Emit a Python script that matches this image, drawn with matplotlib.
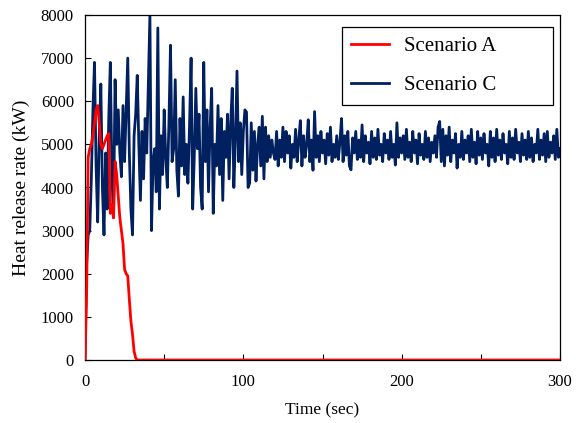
import numpy as np
import matplotlib
matplotlib.use("Agg")
import matplotlib.pyplot as plt
from matplotlib.ticker import MultipleLocator

# ---------------- data ----------------
time_a = [0, 1, 2, 3, 4, 5, 6, 7, 8, 9, 10, 11, 12, 13, 14, 15, 16, 17, 18,
          19, 20, 21, 22, 23, 24, 25, 26, 27, 28, 29, 30, 31, 32, 33, 300]
hrr_a = [0, 1500, 4700, 4900, 5000, 5200, 5500, 5800, 5900, 5500, 5000, 4900,
         5000, 5100, 5200, 5250, 3400, 3600, 3300, 4600, 4300, 3800, 3300,
         3000, 2700, 2100, 2000, 1950, 1400, 900, 600, 200, 50, 0, 0]

hrr_c = [
    # 0-20
    0, 2200, 2900, 3000, 4200, 5800, 6900, 4500, 3200, 5200, 6400,
    4000, 2900, 4800, 3500, 5600, 6900, 4300, 3300, 6500, 5000,
    # 21-40
    5800, 4800, 4250, 5900, 4600, 5800, 7000, 4800, 3500, 2900,
    5200, 5700, 6600, 5000, 3700, 5300, 4200, 5600, 4800, 6400,
    # 41-60
    8000, 3000, 4600, 4900, 3900, 7700, 3500, 5200, 4300, 5800,
    4700, 4000, 5500, 7300, 4600, 4900, 6500, 4400, 3800, 5600,
    # 61-80
    4500, 6100, 4300, 5000, 4100, 5400, 7000, 3500, 4700, 6300,
    4900, 5700, 4000, 3500, 6900, 4600, 5800, 3900, 5400, 6300,
    # 81-100
    3400, 5000, 4500, 5900, 4300, 5600, 3700, 5300, 4700, 5700,
    4200, 5500, 6300, 4000, 5100, 6700, 4600, 5500, 4300, 5300,
    # 101-120
    5800, 5750, 4000, 4100, 5500, 4400, 5300, 4150, 5000, 5400,
    4500, 5650, 4200, 5400, 4600, 5200, 4700, 5100, 4800, 4650,
    # 121-140
    5300, 4500, 5100, 4700, 5400, 4600, 5300, 4800, 5200, 4450,
    5000, 4700, 5350, 4600, 5100, 5550, 4500, 5200, 4700, 5000,
    # 141-160
    5570, 4600, 5100, 4400, 5760, 4700, 5200, 4600, 5300, 4800,
    5100, 4550, 5250, 4750, 5400, 4600, 5000, 4700, 5200, 4650,
    # 161-180
    5050, 5600, 4600, 5200, 4750, 5300, 4500, 4410, 5150, 4800,
    5300, 4650, 5100, 4700, 5450, 4600, 5200, 4800, 5050, 4550,
    # 181-200
    5300, 4700, 5150, 4650, 5350, 4750, 5000, 4600, 5250, 4800,
    5100, 4650, 5300, 4700, 5000, 4520, 5500, 4700, 5150, 4800,
    # 201-220
    5200, 4650, 5350, 4700, 5050, 4600, 5300, 4800, 5100, 4550,
    5250, 4750, 5000, 4650, 5300, 4700, 5150, 4600, 5050, 4800,
    # 221-240
    5200, 4700, 5400, 5530, 4600, 5350, 4500, 5200, 4750, 5400,
    4600, 5100, 4800, 5250, 4450, 5000, 4700, 5300, 4650, 5100,
    # 241-260
    4800, 5200, 4600, 5350, 4700, 5050, 4550, 5300, 4750, 5150,
    4650, 5250, 4800, 5000, 4500, 5300, 4700, 5150, 4600, 5350,
    # 261-280
    4750, 5100, 4650, 5250, 4800, 5000, 4550, 5300, 4700, 5150,
    4650, 5350, 4800, 5050, 4600, 5250, 4750, 5100, 4650, 5300,
    # 281-300
    4700, 5150, 4600, 5000, 4800, 5350, 4650, 5100, 4750, 5250,
    4600, 5300, 4700, 5050, 4800, 5200, 4650, 5350, 4700, 4900,
]
time_c = np.arange(len(hrr_c))

x_ticks = [0, 100, 200, 300]
y_ticks = [0, 1000, 2000, 3000, 4000, 5000, 6000, 7000, 8000]
labels = ["Scenario A", "Scenario C"]

# ---------------- plot ----------------
plt.rcParams["font.family"] = ["Liberation Serif", "DejaVu Serif"]

fig = plt.figure(figsize=(5.76, 4.23), dpi=100)
ax = fig.add_axes([85 / 576, 1 - 360 / 423, 475 / 576, 345 / 423])

ax.plot(time_c, hrr_c, color="#002060", lw=2.0, label=labels[1], zorder=2)
ax.plot(time_a, hrr_a, color="#ff0000", lw=2.0, label=labels[0], zorder=3)

ax.set_xlim(0, 300)
ax.set_ylim(0, 8000)
ax.set_xticks(x_ticks)
ax.set_yticks(y_ticks)
ax.xaxis.set_minor_locator(MultipleLocator(50))
ax.tick_params(axis="both", which="both", direction="in", labelsize=12,
               top=False, right=False, length=4, width=0.8)
ax.tick_params(axis="x", which="both", pad=10)
ax.tick_params(axis="y", which="both", pad=8)
ax.set_xlabel("Time (sec)", fontsize=12.5, labelpad=9)
ax.set_ylabel("Heat release rate (kW)", fontsize=14, labelpad=8)
for s in ax.spines.values():
    s.set_color("black")
    s.set_linewidth(0.9)

h, l = ax.get_legend_handles_labels()
x0 = (342 - 85) / 475
w = (553 - 342) / 475
leg = ax.legend([h[1], h[0]], [l[1], l[0]], loc="upper left",
                bbox_to_anchor=(x0, 0.2, w, 0.765), mode="expand",
                fontsize=15, frameon=True,
                fancybox=False, edgecolor="black", framealpha=1,
                handlelength=1.8, handletextpad=0.75, labelspacing=0.95,
                borderpad=0.45, borderaxespad=0.0)
leg.get_frame().set_linewidth(0.9)

fig.savefig("out.png", dpi=100)
